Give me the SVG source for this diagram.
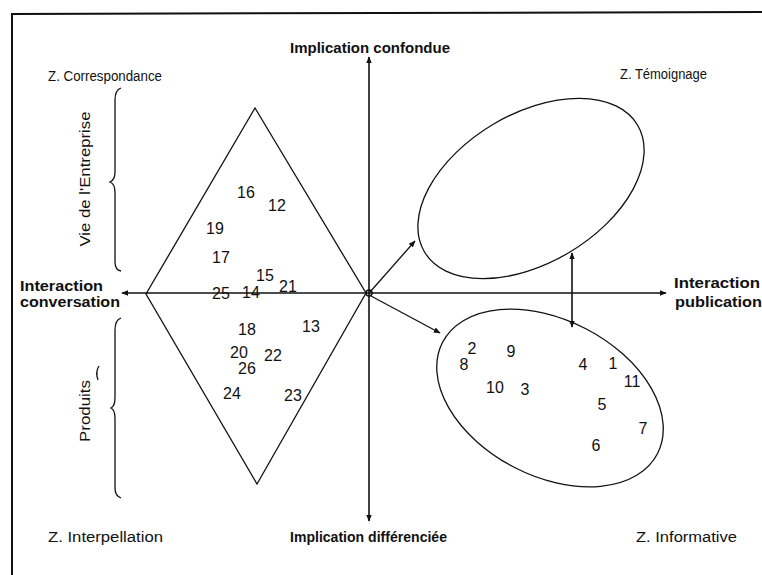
<svg xmlns="http://www.w3.org/2000/svg" width="762" height="575" viewBox="0 0 762 575">
<style>
.lbl{font-family:"Liberation Sans",Arial,sans-serif;font-size:14px;fill:#111}
.b{font-weight:bold}
.num{font-family:"Liberation Sans",Arial,sans-serif;font-size:16px;fill:#111;text-anchor:middle}
.ln{stroke:#111;stroke-width:1.3;fill:none}
.ax{stroke:#111;stroke-width:1.6;fill:none}
</style>
<defs>
<marker id="ah" viewBox="0 0 10 10" refX="9" refY="5" markerWidth="7" markerHeight="7" orient="auto-start-reverse" markerUnits="userSpaceOnUse">
<path d="M0,1 L10,5 L0,9 z" fill="#111"/>
</marker>
</defs>
<rect width="762" height="575" fill="#fff"/>
<g id="frame">
<path d="M12,575 L12,14 L762,12" stroke="#111" stroke-width="2" fill="none"/>
</g>
<g id="connectors">
<line class="ax" x1="369" y1="293" x2="369" y2="57" marker-end="url(#ah)"/>
<line class="ax" x1="369" y1="293" x2="369" y2="521" marker-end="url(#ah)"/>
<line class="ax" x1="369" y1="293" x2="122" y2="293" marker-end="url(#ah)"/>
<line class="ax" x1="369" y1="293" x2="666" y2="293" marker-end="url(#ah)"/>
<line class="ln" x1="370" y1="292" x2="415" y2="241" marker-end="url(#ah)"/>
<line class="ln" x1="371" y1="296" x2="440" y2="333" marker-end="url(#ah)"/>
<line class="ax" x1="572" y1="253" x2="572" y2="327" marker-start="url(#ah)" marker-end="url(#ah)"/>
<circle cx="369" cy="293" r="3" fill="none" stroke="#111" stroke-width="1.5"/>
</g>
<g id="diamond">
<polygon class="ln" points="255,108 366,293 257,484 146,294"/>
</g>
<g id="zone-temoignage">
<ellipse class="ln" cx="531" cy="188.5" rx="124" ry="74.5" transform="rotate(-30.8 531 188.5)"/>
</g>
<g id="zone-informative">
<ellipse class="ln" cx="550" cy="398" rx="121" ry="78" transform="rotate(27.4 550 398)"/>
</g>
<g id="brace-vie">
<path class="ln" d="M121,88 Q115,90 115,100 L115,172 Q115,180 110,182 Q115,184 115,192 L115,262 Q115,270 121,271"/>
<text class="lbl" transform="rotate(-90 85 179)" x="85" y="184" text-anchor="middle" textLength="135" lengthAdjust="spacingAndGlyphs">Vie de l'Entreprise</text>
</g>
<g id="brace-produits">
<path class="ln" d="M121,318 Q115,320 115,330 L115,398 Q115,406 111,408 Q115,410 115,418 L115,488 Q115,496 121,498"/>
<path class="ln" d="M99,366 Q95,372 98,380"/>
<text class="lbl" transform="rotate(-90 85 411)" x="85" y="416" text-anchor="middle" textLength="62" lengthAdjust="spacingAndGlyphs">Produits</text>
</g>
<g id="labels">
<text class="lbl b" x="290" y="53" textLength="160" lengthAdjust="spacingAndGlyphs">Implication confondue</text>
<text class="lbl" x="48" y="81" textLength="114" lengthAdjust="spacingAndGlyphs">Z. Correspondance</text>
<text class="lbl" x="620" y="79" textLength="87" lengthAdjust="spacingAndGlyphs">Z. Témoignage</text>
<text class="lbl b" x="20" y="291" textLength="83" lengthAdjust="spacingAndGlyphs">Interaction</text>
<text class="lbl b" x="20" y="307" textLength="100" lengthAdjust="spacingAndGlyphs">conversation</text>
<text class="lbl b" x="674" y="288" textLength="86" lengthAdjust="spacingAndGlyphs">Interaction</text>
<text class="lbl b" x="675" y="307" textLength="87" lengthAdjust="spacingAndGlyphs">publication</text>
<text class="lbl" x="48" y="542" textLength="115" lengthAdjust="spacingAndGlyphs">Z. Interpellation</text>
<text class="lbl b" x="290" y="542" textLength="157" lengthAdjust="spacingAndGlyphs">Implication différenciée</text>
<text class="lbl" x="636" y="542" textLength="101" lengthAdjust="spacingAndGlyphs">Z. Informative</text>
</g>
<g id="numbers-upper">
<text class="num" x="246" y="198">16</text>
<text class="num" x="277" y="211">12</text>
<text class="num" x="215" y="234">19</text>
<text class="num" x="221" y="263">17</text>
<text class="num" x="265" y="281">15</text>
<text class="num" x="288" y="292">21</text>
<text class="num" x="221" y="299">25</text>
<text class="num" x="251" y="298">14</text>
</g>
<g id="numbers-lower">
<text class="num" x="247" y="335">18</text>
<text class="num" x="311" y="332">13</text>
<text class="num" x="239" y="358">20</text>
<text class="num" x="273" y="361">22</text>
<text class="num" x="247" y="374">26</text>
<text class="num" x="232" y="399">24</text>
<text class="num" x="293" y="401">23</text>
</g>
<g id="numbers-informative">
<text class="num" x="472" y="354">2</text>
<text class="num" x="464" y="370">8</text>
<text class="num" x="511" y="357">9</text>
<text class="num" x="583" y="370">4</text>
<text class="num" x="613" y="369">1</text>
<text class="num" x="632" y="387">11</text>
<text class="num" x="495" y="393">10</text>
<text class="num" x="525" y="395">3</text>
<text class="num" x="602" y="410">5</text>
<text class="num" x="643" y="434">7</text>
<text class="num" x="596" y="451">6</text>
</g>
</svg>
